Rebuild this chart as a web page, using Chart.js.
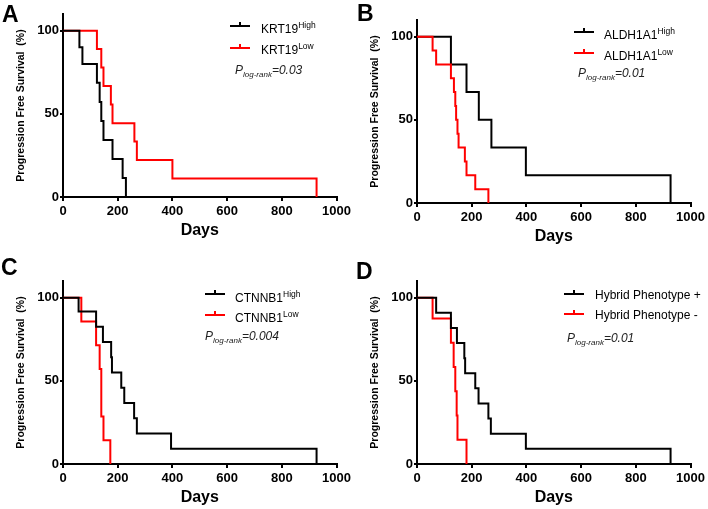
<!DOCTYPE html>
<html>
<head>
<meta charset="utf-8">
<script src="https://cdn.jsdelivr.net/npm/chart.js@4.4.0/dist/chart.umd.min.js"></script>
<style>
  html, body { margin: 0; padding: 0; background: #fff; }
  #wrap { position: relative; width: 708px; height: 509px; overflow: hidden; font-family: "Liberation Sans", Arial, sans-serif; }
  canvas { position: absolute; }
  .letter { position: absolute; font-weight: bold; font-size: 23px; line-height: 1; color: #000; }
  .leg { position: absolute; font-size: 12px; line-height: 12px; color: #000; white-space: nowrap; }
  .leg sup { font-size: 8.5px; vertical-align: 5px; line-height: 0; }
  .swatch { position: absolute; width: 20px; height: 2px; }
  .swatch i { position: absolute; left: 9px; top: -3px; width: 2px; height: 4px; background: inherit; }
  .pval { position: absolute; font-style: italic; font-size: 12px; line-height: 12px; color: #222; white-space: nowrap; }
  .pval sub { font-size: 8px; vertical-align: -3px; line-height: 0; }
</style>
</head>
<body>
<div id="wrap">
  <canvas id="chartA" width="354" height="240" style="left:0px;top:0px"></canvas>
  <canvas id="chartB" width="354" height="240" style="left:354px;top:6px"></canvas>
  <canvas id="chartC" width="354" height="240" style="left:0px;top:267px"></canvas>
  <canvas id="chartD" width="354" height="240" style="left:354px;top:267px"></canvas>
</div>
<script>
const xTicks = [0, 200, 400, 600, 800, 1000];
const yTicks = [0, 50, 100];

// A: KRT19
const krt19HighDays = [0, 60, 71, 124, 134, 140, 148, 181, 218, 230];
const krt19HighSurv = [100, 90, 80, 68.6, 57.1, 45.7, 34.3, 22.9, 11.4, 0];
const krt19LowDays = [0, 124, 140, 148, 175, 181, 261, 270, 400, 927];
const krt19LowSurv = [100, 88.9, 77.8, 66.7, 55.6, 44.4, 33.3, 22.2, 11.1, 0];

// B: ALDH1A1
const aldhHighDays = [0, 124, 181, 226, 272, 398, 927];
const aldhHighSurv = [100, 83.3, 66.7, 50, 33.3, 16.7, 0];
const aldhLowDays = [0, 57, 70, 124, 135, 140, 143, 148, 152, 175, 181, 213, 261];
const aldhLowSurv = [100, 91.7, 83.3, 75, 66.7, 58.3, 50, 41.7, 33.3, 25, 16.7, 8.3, 0];

// C: CTNNB1
const ctnnb1HighDays = [0, 57, 121, 146, 176, 179, 213, 224, 260, 270, 395, 927];
const ctnnb1HighSurv = [100, 91.7, 82.5, 73.3, 64.2, 55, 45.8, 36.7, 27.5, 18.3, 9.2, 0];
const ctnnb1LowDays = [0, 67, 121, 134, 140, 148, 173];
const ctnnb1LowSurv = [100, 85.7, 71.4, 57.1, 28.6, 14.3, 0];

// D: Hybrid phenotype
const hybridPosDays = [0, 70, 124, 146, 173, 176, 213, 225, 261, 270, 398, 927];
const hybridPosSurv = [100, 90.9, 81.8, 72.7, 63.6, 54.5, 45.5, 36.4, 27.3, 18.2, 9.1, 0];
const hybridNegDays = [0, 57, 124, 134, 140, 145, 148, 181];
const hybridNegSurv = [100, 87.5, 72.9, 58.3, 43.8, 29.2, 14.6, 0];

const panels = [
    { letter: 'A', canvas: 'chartA', blackOnTop: true,
      high: [krt19HighDays, krt19HighSurv], low: [krt19LowDays, krt19LowSurv],
      labels: ['KRT19<sup>High</sup>', 'KRT19<sup>Low</sup>'], p: '0.03',
      letterPos: [2, 3], legX: 230, legLines: [26, 47.7], textX: 261, baselines: [33, 54], pPos: [235, 74] },
    { letter: 'B', canvas: 'chartB', blackOnTop: false,
      high: [aldhHighDays, aldhHighSurv], low: [aldhLowDays, aldhLowSurv],
      labels: ['ALDH1A1<sup>High</sup>', 'ALDH1A1<sup>Low</sup>'], p: '0.01',
      letterPos: [357, 2], legX: 574, legLines: [32.3, 52.7], textX: 604, baselines: [38.5, 60], pPos: [578, 77] },
    { letter: 'C', canvas: 'chartC', blackOnTop: true,
      high: [ctnnb1HighDays, ctnnb1HighSurv], low: [ctnnb1LowDays, ctnnb1LowSurv],
      labels: ['CTNNB1<sup>High</sup>', 'CTNNB1<sup>Low</sup>'], p: '0.004',
      letterPos: [1, 256], legX: 205, legLines: [294, 315], textX: 235, baselines: [302, 322], pPos: [205, 340] },
    { letter: 'D', canvas: 'chartD', blackOnTop: true,
      high: [hybridPosDays, hybridPosSurv], low: [hybridNegDays, hybridNegSurv],
      labels: ['Hybrid Phenotype +', 'Hybrid Phenotype -'], p: '0.01',
      letterPos: [356, 260], legX: 564, legLines: [294, 314], textX: 595, baselines: [299, 319], pPos: [567, 341.5] }
];

const toPoints = (days, surv) => days.map((d, i) => ({ x: d, y: surv[i] }));

function addOverlay(p) {
    const wrap = document.getElementById('wrap');
    const letter = document.createElement('div');
    letter.className = 'letter';
    letter.textContent = p.letter;
    letter.style.left = p.letterPos[0] + 'px';
    letter.style.top = p.letterPos[1] + 'px';
    wrap.appendChild(letter);

    ['#000000', '#ff0000'].forEach((color, i) => {
        const sw = document.createElement('div');
        sw.className = 'swatch';
        sw.style.background = color;
        sw.style.left = p.legX + 'px';
        sw.style.top = (p.legLines[i] - 1) + 'px';
        sw.innerHTML = '<i></i>';
        wrap.appendChild(sw);

        const t = document.createElement('div');
        t.className = 'leg';
        t.innerHTML = p.labels[i];
        t.style.left = p.textX + 'px';
        t.style.top = (p.baselines[i] - 10) + 'px';
        wrap.appendChild(t);
    });

    const pv = document.createElement('div');
    pv.className = 'pval';
    pv.innerHTML = 'P<sub>log-rank</sub>=' + p.p;
    pv.style.left = p.pPos[0] + 'px';
    pv.style.top = (p.pPos[1] - 10) + 'px';
    wrap.appendChild(pv);
}

function makeChart(p) {
    const ctx = document.getElementById(p.canvas).getContext('2d');
    const axisFont = { family: '"Liberation Sans", Arial, sans-serif', size: 13, weight: 'bold' };
    new Chart(ctx, {
        type: 'line',
        data: {
            datasets: [
                {
                    data: toPoints(p.high[0], p.high[1]),
                    borderColor: '#000000',
                    borderWidth: 2,
                    pointRadius: 0,
                    stepped: 'before',
                    fill: false,
                    order: p.blackOnTop ? 0 : 1
                },
                {
                    data: toPoints(p.low[0], p.low[1]),
                    borderColor: '#ff0000',
                    borderWidth: 2,
                    pointRadius: 0,
                    stepped: 'before',
                    fill: false,
                    order: p.blackOnTop ? 1 : 0
                }
            ]
        },
        options: {
            responsive: false,
            animation: false,
            layout: { padding: { top: 14, right: 17, left: 0, bottom: 0 } },
            plugins: { legend: { display: false }, tooltip: { enabled: false } },
            scales: {
                x: {
                    type: 'linear',
                    min: 0,
                    max: 1000,
                    afterBuildTicks: s => { s.ticks = xTicks.map(v => ({ value: v })); },
                    afterFit: s => { s.height = 43; },
                    border: { color: '#000', width: 2 },
                    grid: { drawOnChartArea: false, drawTicks: true, tickLength: 4, color: '#000', lineWidth: 2 },
                    ticks: { color: '#000', font: axisFont, padding: 3, maxRotation: 0, callback: v => String(v) },
                    title: {
                        display: true, text: 'Days', color: '#000', padding: 0,
                        font: { family: '"Liberation Sans", Arial, sans-serif', size: 16, weight: 'bold' }
                    }
                },
                y: {
                    min: 0,
                    max: 110,
                    afterBuildTicks: s => { s.ticks = yTicks.map(v => ({ value: v })); },
                    afterFit: s => { s.width = 63; },
                    border: { color: '#000', width: 2 },
                    grid: { drawOnChartArea: false, drawTicks: true, tickLength: 3, color: '#000', lineWidth: 2 },
                    ticks: { color: '#000', font: axisFont, padding: 1, callback: v => String(v) },
                    title: {
                        display: true, text: 'Progression Free Survival  (%)', color: '#000',
                        padding: { top: 15, bottom: 0 },
                        font: { family: '"Liberation Sans", Arial, sans-serif', size: 10.5, weight: 'bold' }
                    }
                }
            }
        }
    });
}

panels.forEach(p => {
    makeChart(p);
    addOverlay(p);
});
</script>
</body>
</html>
